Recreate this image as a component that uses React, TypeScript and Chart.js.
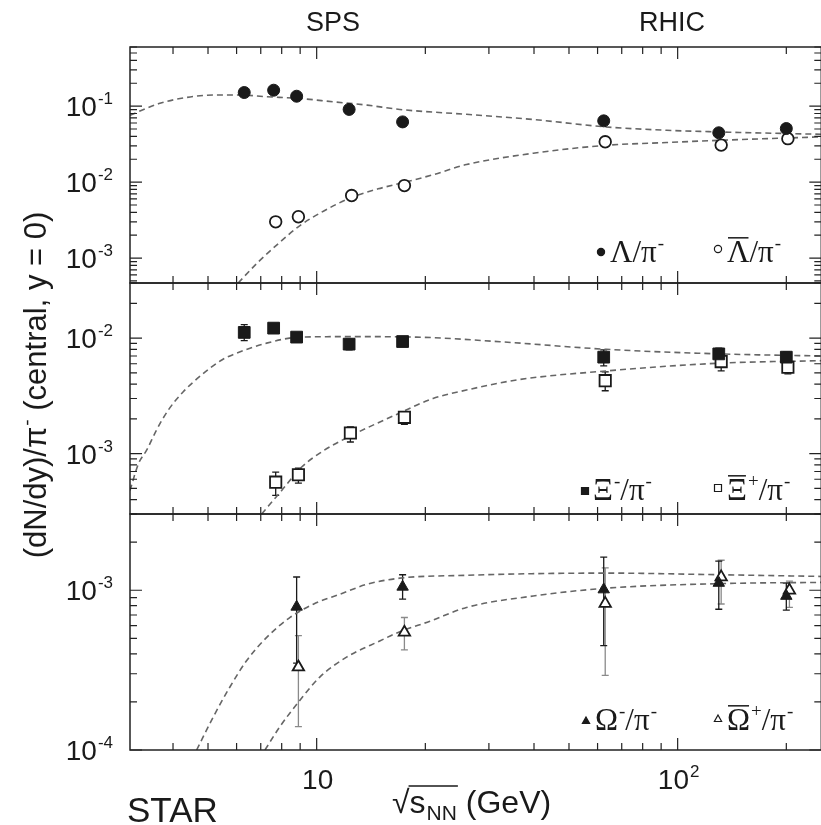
import React, { useEffect, useRef } from "react";
import { Chart, registerables } from "chart.js";

Chart.register(...registerables);

// ---------------- data ----------------
// Lambda / pi-  (panel 1)
const lambdaE = [6.3, 7.6, 8.8, 12.3, 17.3, 62.4, 130, 200];
const lambdaY = [0.151, 0.162, 0.135, 0.0905, 0.062, 0.064, 0.0446, 0.0507];
const aLambdaE = [7.7, 8.9, 12.5, 17.5, 63, 132, 202];
const aLambdaY = [0.003, 0.0035, 0.00665, 0.009, 0.0339, 0.0307, 0.0373];

// Xi / pi-  (panel 2)
const xiE = [6.3, 7.6, 8.8, 12.3, 17.3, 62.4, 130, 200];
const xiY = [0.0112, 0.0122, 0.0102, 0.00887, 0.00934, 0.00684, 0.0073, 0.00684];
const xiLo = [0.0095, null, null, 0.0079, null, 0.00574, 0.0065, 0.0061];
const xiHi = [0.0131, null, null, 0.0098, null, 0.0079, 0.0082, 0.0076];
const aXiE = [7.7, 8.9, 12.4, 17.5, 63, 132, 202];
const aXiY = [5.66e-4, 6.56e-4, 1.51e-3, 2.06e-3, 4.28e-3, 6.26e-3, 5.6e-3];
const aXiLo = [4.35e-4, 5.55e-4, 1.26e-3, 1.79e-3, 3.5e-3, 5.2e-3, 4.9e-3];
const aXiHi = [6.9e-4, 7.5e-4, 1.7e-3, 2.3e-3, 5.1e-3, 7.2e-3, 6.3e-3];

// Omega / pi-  (panel 3)
const omE = [8.8, 17.3, 62.4, 130, 200];
const omY = [7.87e-4, 1.05e-3, 1.01e-3, 1.11e-3, 9.2e-4];
const omLo = [3.5e-4, 8.8e-4, 4.5e-4, 7.6e-4, 7.5e-4];
const omHi = [1.21e-3, 1.25e-3, 1.61e-3, 1.52e-3, 1.11e-3];
const aOmE = [8.9, 17.5, 63, 132, 204];
const aOmY = [3.3e-4, 5.45e-4, 8.26e-4, 1.21e-3, 1.0e-3];
const aOmLo = [1.4e-4, 4.23e-4, 2.93e-4, 8.2e-4, 7.8e-4];
const aOmHi = [5.2e-4, 6.75e-4, 1.38e-3, 1.54e-3, 1.14e-3];

// model curves
const lamCurveE = [3.04, 3.68, 4.36, 5.17, 6.13, 7.27, 8.99, 11.1, 13.8, 17.0, 26.0, 39.8, 63.5, 93.2, 131, 250];
const lamCurveY = [0.076, 0.109, 0.13, 0.14, 0.14, 0.133, 0.126, 0.114, 0.103, 0.0904, 0.078, 0.0667, 0.0532, 0.0481, 0.0457, 0.0426];
const aLamCurveE = [6.06, 6.89, 7.83, 8.99, 10.5, 12.5, 14.8, 17.6, 21.0, 26.0, 39.8, 63.5, 93.2, 131, 250];
const aLamCurveY = [4.7e-4, 8.9e-4, 1.55e-3, 2.68e-3, 4.2e-3, 6.3e-3, 8.15e-3, 0.01, 0.0125, 0.017, 0.024, 0.0305, 0.0332, 0.0355, 0.0394];

const xiCurveE = [3.04, 3.21, 3.38, 3.6, 3.88, 4.27, 4.8, 5.46, 5.87, 7.27, 8.99, 12.4, 18.9, 32.2, 63.5, 131, 250];
const xiCurveY = [4.8e-4, 8.2e-4, 1.07e-3, 1.6e-3, 2.38e-3, 3.43e-3, 4.8e-3, 6.47e-3, 7.2e-3, 9.05e-3, 0.0102, 0.0103, 0.0102, 0.0093, 0.008, 0.0073, 0.007];
const aXiCurveE = [7.04, 8.0, 9.09, 10.5, 12.0, 17.0, 21.0, 26.0, 35.8, 63.5, 131, 250];
const aXiCurveY = [3.0e-4, 4.8e-4, 7.65e-4, 1.07e-3, 1.35e-3, 2.25e-3, 3.0e-3, 3.55e-3, 4.34e-3, 5.2e-3, 6.07e-3, 6.38e-3];

const omCurveE = [4.65, 5.17, 5.75, 6.4, 7.27, 8.44, 9.79, 11.6, 13.8, 17.0, 26.0, 40, 63.5, 131, 250];
const omCurveY = [1e-4, 1.61e-4, 2.48e-4, 3.63e-4, 5.07e-4, 6.76e-4, 8.18e-4, 9.44e-4, 1.09e-3, 1.19e-3, 1.24e-3, 1.27e-3, 1.28e-3, 1.25e-3, 1.22e-3];
const aOmCurveE = [7.19, 7.91, 8.99, 10.2, 12.1, 15.0, 17.0, 20.6, 26.0, 39.8, 63.5, 131, 250];
const aOmCurveY = [1e-4, 1.4e-4, 2.05e-4, 2.86e-4, 3.81e-4, 4.83e-4, 5.5e-4, 6.4e-4, 7.8e-4, 9.2e-4, 1.03e-3, 1.1e-3, 1.12e-3];

// ticks
const xMajorTicks = [10, 100];
const xMinorTicks = [4, 5, 6, 7, 8, 9, 20, 30, 40, 50, 60, 70, 80, 90, 200];
const xTickLabels = [
  { v: 10, base: "10", sup: "" },
  { v: 100, base: "10", sup: "2" },
];
const p1Exps = [-1, -2, -3];
const p2Exps = [-2, -3];
const p3Exps = [-3, -4];

// axis ranges
const X_MIN = 3.04, X_MAX = 250;
const P1 = { min: 4.7e-4, max: 0.6 };
const P2 = { min: 3e-4, max: 0.03 };
const P3 = { min: 1e-4, max: 3e-3 };

// ---------------- drawing helpers ----------------
const CW = 840, CH = 825;
const SANS = '"Liberation Sans", Arial, Helvetica, sans-serif';
const SERIF = '"Liberation Serif", "Times New Roman", serif';
const INK = "#1a1a1a";

const zip = (xs: number[], ys: number[]) => xs.map((x, i) => ({ x, y: ys[i] }));

type Seg = { t: string; sup?: string; sub?: string; over?: boolean };

function richWidth(ctx: CanvasRenderingContext2D, segs: Seg[], size: number, fam: string) {
  let w = 0;
  for (const s of segs) {
    ctx.font = `${size}px ${fam}`;
    w += ctx.measureText(s.t).width;
    ctx.font = `${Math.round(size * 0.62)}px ${fam}`;
    let ex = 0;
    if (s.sup) ex = Math.max(ex, ctx.measureText(s.sup).width + 1);
    if (s.sub) ex = Math.max(ex, ctx.measureText(s.sub).width + 1);
    w += ex;
  }
  return w;
}

function drawRich(ctx: CanvasRenderingContext2D, segs: Seg[], x: number, y: number, size: number, fam: string, align: "left" | "center" | "right" = "left") {
  const w = richWidth(ctx, segs, size, fam);
  let cx = align === "center" ? x - w / 2 : align === "right" ? x - w : x;
  ctx.textAlign = "left";
  ctx.textBaseline = "alphabetic";
  for (const s of segs) {
    ctx.font = `${size}px ${fam}`;
    ctx.fillText(s.t, cx, y);
    const wt = ctx.measureText(s.t).width;
    if (s.over) {
      ctx.beginPath();
      ctx.lineWidth = 1.5;
      ctx.moveTo(cx + 1, y - size * 0.78);
      ctx.lineTo(cx + wt - 1, y - size * 0.78);
      ctx.stroke();
    }
    const ex0 = cx + wt;
    ctx.font = `${Math.round(size * 0.62)}px ${fam}`;
    let ex = 0;
    if (s.sup) {
      ctx.fillText(s.sup, ex0 + 1, y - size * 0.42);
      ex = Math.max(ex, ctx.measureText(s.sup).width + 1);
    }
    if (s.sub) {
      ctx.fillText(s.sub, ex0 + 1, y + size * 0.2);
      ex = Math.max(ex, ctx.measureText(s.sub).width + 1);
    }
    cx = ex0 + ex;
  }
}

function drawMarker(ctx: CanvasRenderingContext2D, kind: string, x: number, y: number, r: number, filled: boolean) {
  ctx.beginPath();
  if (kind === "circle") ctx.arc(x, y, r, 0, Math.PI * 2);
  else if (kind === "rect") ctx.rect(x - r, y - r, 2 * r, 2 * r);
  else {
    ctx.moveTo(x, y - r * 1.1);
    ctx.lineTo(x + r, y + r * 0.7);
    ctx.lineTo(x - r, y + r * 0.7);
    ctx.closePath();
  }
  ctx.lineWidth = 1.2;
  ctx.fillStyle = filled ? INK : "#fff";
  ctx.strokeStyle = INK;
  ctx.fill();
  ctx.stroke();
}

const errorSets = [
  { axis: "y2", E: xiE, lo: xiLo, hi: xiHi, color: INK },
  { axis: "y2", E: aXiE, lo: aXiLo, hi: aXiHi, color: INK },
  { axis: "y3", E: aOmE, lo: aOmLo, hi: aOmHi, color: "#8a8a8a" },
  { axis: "y3", E: omE, lo: omLo, hi: omHi, color: INK },
];

const legends = [
  { kind: "circle", filled: true, mx: 601, my: 252, tx: 610, ty: 262, segs: [{ t: "Λ" }, { t: "/π", sup: "-" }] as Seg[] },
  { kind: "circle", filled: false, mx: 718, my: 249, tx: 727, ty: 262, segs: [{ t: "Λ", over: true }, { t: "/π", sup: "-" }] as Seg[] },
  { kind: "rect", filled: true, mx: 585, my: 491, tx: 593, ty: 500, segs: [{ t: "Ξ", sup: "-" }, { t: "/π", sup: "-" }] as Seg[] },
  { kind: "rect", filled: false, mx: 718, my: 488, tx: 727, ty: 500, segs: [{ t: "Ξ", over: true, sup: "+" }, { t: "/π", sup: "-" }] as Seg[] },
  { kind: "tri", filled: true, mx: 586, my: 721, tx: 595, ty: 730, segs: [{ t: "Ω", sup: "-" }, { t: "/π", sup: "-" }] as Seg[] },
  { kind: "tri", filled: false, mx: 718, my: 719, tx: 727, ty: 730, segs: [{ t: "Ω", over: true, sup: "+" }, { t: "/π", sup: "-" }] as Seg[] },
];

const decorPlugin = {
  id: "decor",
  beforeDatasetsDraw(chart: any) {
    const ctx: CanvasRenderingContext2D = chart.ctx;
    const xs = chart.scales.x;
    ctx.save();
    for (const s of errorSets) {
      const ys = chart.scales[s.axis];
      ctx.strokeStyle = s.color;
      ctx.lineWidth = 1.3;
      s.E.forEach((e, i) => {
        const lo = s.lo[i], hi = s.hi[i];
        if (lo == null || hi == null) return;
        const px = xs.getPixelForValue(e);
        const p1 = ys.getPixelForValue(lo), p2 = ys.getPixelForValue(hi);
        ctx.beginPath();
        ctx.moveTo(px, p1); ctx.lineTo(px, p2);
        ctx.moveTo(px - 3.5, p1); ctx.lineTo(px + 3.5, p1);
        ctx.moveTo(px - 3.5, p2); ctx.lineTo(px + 3.5, p2);
        ctx.stroke();
      });
    }
    ctx.restore();
  },
  afterDatasetsDraw(chart: any) {
    const ctx: CanvasRenderingContext2D = chart.ctx;
    const xs = chart.scales.x;
    const L = xs.left, R = xs.right;
    ctx.save();
    ctx.strokeStyle = "#222";
    ctx.fillStyle = INK;
    const panels = [
      { id: "y1", exps: p1Exps },
      { id: "y2", exps: p2Exps },
      { id: "y3", exps: p3Exps },
    ];
    for (const p of panels) {
      const ys = chart.scales[p.id];
      const T = ys.top, B = ys.bottom;
      ctx.lineWidth = 1.5;
      ctx.strokeRect(L, T, R - L, B - T);
      ctx.beginPath();
      ctx.lineWidth = 1.2;
      for (const v of [...xMajorTicks, ...xMinorTicks]) {
        const len = xMajorTicks.includes(v) ? 12 : 7;
        const px = xs.getPixelForValue(v);
        ctx.moveTo(px, B); ctx.lineTo(px, B - len);
        ctx.moveTo(px, T); ctx.lineTo(px, T + len);
      }
      const mn = ys.min, mx = ys.max;
      for (let d = Math.floor(Math.log10(mn)); d <= Math.ceil(Math.log10(mx)); d++) {
        for (let m = 1; m <= 9; m++) {
          const v = m * Math.pow(10, d);
          if (v < mn * 0.999 || v > mx * 1.001) continue;
          const py = ys.getPixelForValue(v);
          const len = m === 1 ? 12 : 7;
          ctx.moveTo(L, py); ctx.lineTo(L + len, py);
          ctx.moveTo(R, py); ctx.lineTo(R - len, py);
        }
      }
      ctx.stroke();
      // y tick labels
      for (const e of p.exps) {
        const py = ys.getPixelForValue(Math.pow(10, e));
        drawRich(ctx, [{ t: "10", sup: String(e) }], 113, py + 10, 28, SANS, "right");
      }
    }
    // x tick labels
    for (const t of xTickLabels) {
      const px = xs.getPixelForValue(t.v);
      const segs: Seg[] = t.sup ? [{ t: t.base, sup: t.sup }] : [{ t: t.base }];
      drawRich(ctx, segs, px + 1, 789, 28, SANS, "center");
    }
    // legends
    for (const lg of legends) {
      drawMarker(ctx, lg.kind, lg.mx, lg.my, lg.kind === "rect" ? 3.5 : 3.6, lg.filled);
      ctx.fillStyle = INK;
      ctx.strokeStyle = INK;
      drawRich(ctx, lg.segs, lg.tx, lg.ty, 31, SERIF, "left");
    }
    // top labels
    ctx.fillStyle = INK;
    ctx.font = `27px ${SANS}`;
    ctx.textAlign = "center";
    ctx.textBaseline = "alphabetic";
    ctx.fillText("SPS", 333, 31);
    ctx.fillText("RHIC", 672, 31);
    // STAR
    ctx.textAlign = "left";
    ctx.font = `35px ${SANS}`;
    ctx.fillText("STAR", 127, 822);
    // x title
    {
      const x0 = 392, yb = 813;
      ctx.font = `32px ${SANS}`;
      ctx.fillText("√", x0, yb);
      const wr = ctx.measureText("√").width;
      ctx.fillText("s", x0 + wr, yb);
      const ws = ctx.measureText("s").width;
      ctx.font = `21px ${SANS}`;
      ctx.fillText("NN", x0 + wr + ws + 1, yb + 7);
      const wn = ctx.measureText("NN").width;
      ctx.beginPath();
      ctx.lineWidth = 1.3;
      ctx.moveTo(x0 + wr - 1, yb - 27);
      ctx.lineTo(x0 + wr + ws + wn + 2, yb - 27);
      ctx.stroke();
      ctx.font = `32px ${SANS}`;
      ctx.fillText(" (GeV)", x0 + wr + ws + wn + 1, yb);
    }
    // y title
    ctx.translate(46, 385);
    ctx.rotate(-Math.PI / 2);
    drawRich(ctx, [{ t: "(dN/dy)/π", sup: "-" }, { t: " (central, y = 0)" }], 0, 0, 31, SANS, "center");
    ctx.restore();
  },
};

function markerSet(label: string, E: number[], Y: number[], axis: string, style: string, r: number, filled: boolean) {
  return {
    type: "scatter" as const,
    label,
    data: zip(E, Y),
    yAxisID: axis,
    pointStyle: style,
    pointRadius: r,
    pointBorderWidth: filled ? 1 : 1.8,
    pointBackgroundColor: filled ? INK : "#fff",
    pointBorderColor: INK,
    backgroundColor: filled ? INK : "#fff",
    borderColor: INK,
    showLine: false,
    order: 0,
  };
}

function curveSet(label: string, E: number[], Y: number[], axis: string) {
  return {
    type: "line" as const,
    label,
    data: zip(E, Y),
    yAxisID: axis,
    showLine: true,
    pointRadius: 0,
    borderColor: "#666",
    borderWidth: 1.6,
    borderDash: [6, 4],
    cubicInterpolationMode: "monotone" as const,
    fill: false,
    order: 1,
  };
}

export default function App() {
  const ref = useRef<HTMLCanvasElement>(null);
  useEffect(() => {
    const canvas = ref.current;
    if (!canvas) return;
    const chart = new Chart(canvas, {
      type: "scatter",
      data: {
        datasets: [
          markerSet("Λ/π-", lambdaE, lambdaY, "y1", "circle", 6, true),
          markerSet("anti-Λ/π-", aLambdaE, aLambdaY, "y1", "circle", 5.8, false),
          markerSet("Ξ-/π-", xiE, xiY, "y2", "rect", 8.3, true),
          markerSet("anti-Ξ+/π-", aXiE, aXiY, "y2", "rect", 8.0, false),
          markerSet("Ω-/π-", omE, omY, "y3", "triangle", 6.6, true),
          markerSet("anti-Ω+/π-", aOmE, aOmY, "y3", "triangle", 6.6, false),
          curveSet("Λ model", lamCurveE, lamCurveY, "y1"),
          curveSet("anti-Λ model", aLamCurveE, aLamCurveY, "y1"),
          curveSet("Ξ model", xiCurveE, xiCurveY, "y2"),
          curveSet("anti-Ξ model", aXiCurveE, aXiCurveY, "y2"),
          curveSet("Ω model", omCurveE, omCurveY, "y3"),
          curveSet("anti-Ω model", aOmCurveE, aOmCurveY, "y3"),
        ] as any,
      },
      options: {
        animation: false,
        responsive: false,
        maintainAspectRatio: false,
        layout: { padding: { left: 130, right: CW - 821.3, top: 47, bottom: 75 } },
        plugins: { legend: { display: false }, tooltip: { enabled: false } },
        scales: {
          x: { type: "logarithmic", min: X_MIN, max: X_MAX, display: false },
          y1: { type: "logarithmic", position: "left", min: P1.min, max: P1.max, display: false, stack: "panels", stackWeight: 236, weight: 3 },
          y2: { type: "logarithmic", position: "left", min: P2.min, max: P2.max, display: false, stack: "panels", stackWeight: 231, weight: 2 },
          y3: { type: "logarithmic", position: "left", min: P3.min, max: P3.max, display: false, stack: "panels", stackWeight: 236, weight: 1 },
        } as any,
      },
      plugins: [decorPlugin],
    });
    return () => chart.destroy();
  }, []);
  return (
    <div style={{ position: "absolute", left: 0, top: 0, width: 821, height: CH, overflow: "hidden", background: "#fff" }}>
      <canvas ref={ref} width={CW} height={CH} style={{ display: "block", width: CW, height: CH }} />
    </div>
  );
}
